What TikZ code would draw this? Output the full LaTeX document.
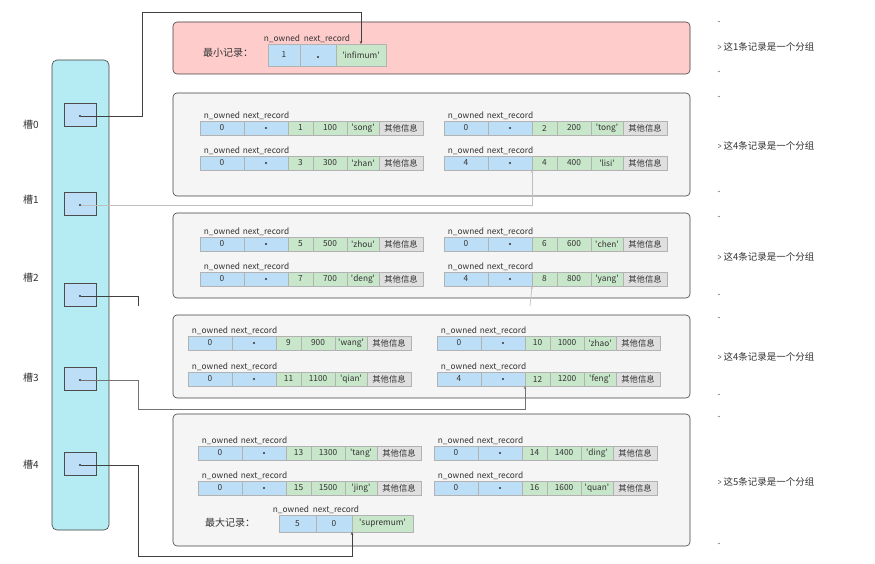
\documentclass[tikz,border=0pt]{standalone}
\usepackage{fontspec}
\setmainfont{Noto Sans CJK SC}
\usetikzlibrary{arrows.meta}
\definecolor{cellblue}{HTML}{BDDEF7}
\definecolor{cellgreen}{HTML}{C8E6C9}
\definecolor{colcyan}{HTML}{B5EBF2}
\newcommand\qq[1]{\textquotesingle#1\textquotesingle}
\tikzset{
  x=1pt,y=-1pt,
  every node/.style={font=\fontsize{8.3}{10}\selectfont,text=black!80},
  cell/.style={draw=gray!60,line width=0.4pt,inner sep=0pt,outer sep=0pt,minimum height=14pt,anchor=north west},
  bc/.style={cell,fill=cellblue,minimum width=44pt},
  gc/.style={cell,fill=cellgreen},
  oc/.style={cell,fill=gray!25,minimum width=44pt},
  hd/.style={inner sep=1pt,anchor=south},
  grp/.style={draw=black!75,rounded corners=4pt,fill=gray!8,line width=0.6pt},
  slot/.style={draw=black!70,fill=cellblue,minimum width=32pt,minimum height=23pt,inner sep=0pt},
  dotc/.style={circle,fill=black!80,inner sep=0pt,minimum size=2.4pt},
  link/.style={line width=0.7pt,-{Stealth[length=3pt,width=2.5pt]}},
  note/.style={anchor=west,font=\fontsize{9.5}{11}\selectfont},
  big/.style={font=\fontsize{10}{12}\selectfont},
  tick/.style={line width=0.5pt,black!60}
}
\newcommand\rec[7]{%
  \node[bc] (#1a) at (#2,#3) {#4};
  \node[bc] (#1b) at (#1a.north east) {};
  \node[dotc] at (#1b.center) {};
  \node[gc,minimum width=25pt] (#1c) at (#1b.north east) {#5};
  \node[gc,minimum width=34pt] (#1d) at (#1c.north east) {#6};
  \node[gc,minimum width=32pt] (#1e) at (#1d.north east) {\qq{#7}};
  \node[oc] (#1f) at (#1e.north east) {其他信息};
  \node[hd] at (#1a.north) {n\_owned};
  \node[hd] at (#1b.north) {next\_record};
}
\begin{document}
\begin{tikzpicture}
\useasboundingbox (0,0) rectangle (875,564);
% slot column
\draw[fill=colcyan,draw=black!75,line width=0.6pt,rounded corners=5pt] (52,60) rectangle (109,530);
\foreach \i/\y/\ly in {0/115/125,1/204/200,2/295/278,3/379/378,4/464/465}{
  \node[slot] (s\i) at (80,\y) {};
  \node[dotc] (d\i) at (80,\y+1) {};
  \node[big] (l\i) at (31,\ly) {槽\i};
}
% min record
\draw[fill=red!20,draw=black!75,line width=0.6pt,rounded corners=4pt] (173,22) rectangle (690,74);
\node[big] (minl) at (228,53) {最小记录：};
\node[bc,minimum width=32pt,minimum height=22pt] (ia) at (268,44) {1};
\node[bc,minimum width=36pt,minimum height=22pt] (ib) at (ia.north east) {};
\node[dotc] at ([yshift=-2pt]ib.center) {};
\node[gc,minimum width=50pt,minimum height=22pt] (ic) at (ib.north east) {\qq{infimum}};
\node[hd] at (307,44) {n\_owned\ \ next\_record};
% groups
\draw[grp] (173,93) rectangle (690,196);
\rec{ra}{200}{121}{0}{1}{100}{song}
\rec{rb}{444}{121}{0}{2}{200}{tong}
\rec{rc}{200}{156}{0}{3}{300}{zhan}
\rec{rd}{444}{156}{4}{4}{400}{lisi}
\draw[grp] (173,213) rectangle (690,298);
\rec{re}{200}{237}{0}{5}{500}{zhou}
\rec{rf}{444}{237}{0}{6}{600}{chen}
\rec{rg}{200}{272}{0}{7}{700}{deng}
\rec{rh}{444}{272}{4}{8}{800}{yang}
\draw[grp] (173,315) rectangle (690,398);
\rec{ri}{188}{336}{0}{9}{900}{wang}
\rec{rj}{437}{336}{0}{10}{1000}{zhao}
\rec{rk}{188}{372}{0}{11}{1100}{qian}
\rec{rl}{437}{372}{4}{12}{1200}{feng}
\draw[grp] (173,414) rectangle (690,546);
\rec{rm}{198}{446}{0}{13}{1300}{tang}
\rec{rn}{434}{446}{0}{14}{1400}{ding}
\rec{ro}{198}{481}{0}{15}{1500}{jing}
\rec{rp}{434}{481}{0}{16}{1600}{quan}
\node[big] (maxl) at (230,523) {最大记录：};
\node[bc,minimum width=37pt,minimum height=17pt] (sa) at (279,515) {5};
\node[bc,minimum width=36pt,minimum height=17pt] (sb) at (sa.north east) {0};
\node[gc,minimum width=61pt,minimum height=17pt] (sc) at (sb.north east) {\qq{supremum}};
\node[hd] at (sb.north west) {n\_owned\ \ next\_record};
% connectors
\coordinate (c2) at (138,306);
\coordinate (c2b) at (530,306);
\draw[link,black!75] (d0) -- (142,116) -- (142,12) -| (ic.north);
\draw[link,black!25] (d1) -| (rdc.south west);
\draw[line width=0.7pt,black!75] (d2) -| (c2);
\draw[link,black!25] (c2b) -- (rhc.south west);
\draw[link,black!55] (d3) -| (138,409) -| (rlc.south west);
\draw[link,black!75] (d4) -| (138,556) -| (sc.south west);
% notes
\foreach \y/\t/\a/\b in {47/这1条记录是一个分组/22/71,146/这4条记录是一个分组/97/191,257/这4条记录是一个分组/217/294,357/这4条记录是一个分组/318/394,482/这5条记录是一个分组/417/543}{
  \node[note] at (720,\y) {\t};
  \draw[tick] (718,\y-2) -- (721,\y) -- (718,\y+2);
  \draw[tick] (718,\a-1) -- (720,\a);
  \draw[tick] (718,\b+1) -- (720,\b);
}
\end{tikzpicture}
\end{document}
